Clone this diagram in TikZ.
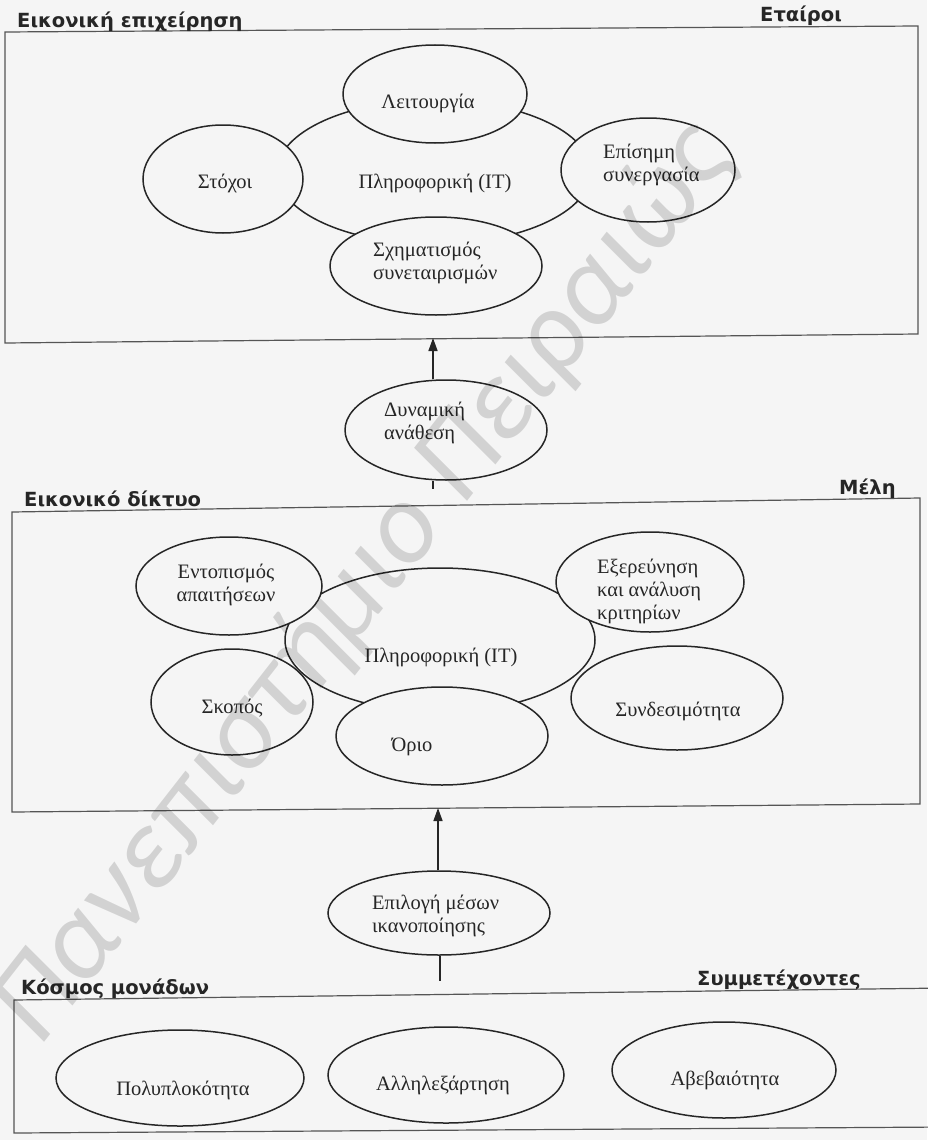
\documentclass[tikz,border=0pt]{standalone}
\usepackage{fontspec}
\setmainfont{Liberation Serif}
\newfontfamily\headfont{DejaVu Sans}
\newfontfamily\markfont{Carlito}
\usetikzlibrary{shapes.geometric,arrows.meta}

\definecolor{paper}{RGB}{245,245,245}
\definecolor{ink}{RGB}{38,38,38}
\definecolor{rule}{RGB}{85,85,85}

\tikzset{
  sz/.style 2 args={minimum width=#1pt, minimum height=#2pt},
  oval/.style={ellipse, draw=ink, line width=1.5pt, inner sep=0pt},
  solid/.style={fill=paper},
  lbl/.style={font=\fontsize{20.5}{23}\selectfont, text=ink, align=left, inner sep=0pt},
  title/.style={font=\headfont\bfseries\fontsize{19.5}{21}\selectfont, text=ink, inner sep=0pt, anchor=base west},
  frame/.style={draw=rule, line width=1.2pt},
  link/.style={draw=ink, line width=1.5pt},
  uparrow/.style={link, -{Triangle[length=13pt,width=9pt]}},
  watermark/.style={font=\markfont\itshape\fontsize{116}{116}\selectfont, text=black, opacity=0.14, inner sep=0pt}
}

\begin{document}
\begin{tikzpicture}[x=1pt,y=-1pt]
\useasboundingbox (0,0) rectangle (927,1140);
\fill[paper] (0,0) rectangle (927,1140);

% ---------- frames of the three levels ----------
\draw[frame] (5,32) -- (918,26) -- (918,334) -- (5,343) -- cycle;
\draw[frame] (12,512) -- (920,498) -- (920,804) -- (12,812) -- cycle;
\draw[frame] (945,988) -- (14,1000) -- (14,1133) -- (945,1127);

% ---------- level titles ----------
\node[title] (virtEnt)  at (17,28)   {Εικονική επιχείρηση};
\node[title] (partners) at (760,22)  {Εταίροι};
\node[title] (virtNet)  at (24,506)  {Εικονικό δίκτυο};
\node[title] (members)  at (839,494) {Μέλη};
\node[title] (unitWld)  at (21,994)  {Κόσμος μονάδων};
\node[title] (particip) at (697,985) {Συμμετέχοντες};

% ---------- virtual enterprise ----------
\node[oval, sz={314}{144}] (itA) at (434,172) {};
\node[oval, solid, sz={184}{98}]  (ops)      at (435,94)  {};
\node[oval, solid, sz={160}{108}] (goals)    at (223,179) {};
\node[oval, solid, sz={174}{104}] (formal)   at (648,170) {};
\node[oval, solid, sz={212}{98}]  (alliance) at (436,266) {};

\node[lbl] (itAt)   at (435,183) {Πληροφορική (IT)};
\node[lbl] (opst)   at (428,103) {Λειτουργία};
\node[lbl] (goalst) at (225,183) {Στόχοι};
\node[lbl, anchor=west] (formalt)   at (603,165) {Επίσημη\\συνεργασία};
\node[lbl, anchor=west] (alliancet) at (373,263) {Σχηματισμός\\συνεταιρισμών};

% ---------- dynamic assignment ----------
\node[oval, solid, sz={202}{100}] (dyn) at (446,430) {};
\node[lbl, anchor=west] (dynt) at (384,423) {Δυναμική\\ανάθεση};
\coordinate (up1) at (433,338);
\coordinate (dn1) at (433,489);
\draw[uparrow] (up1 |- dyn.north) -- (up1);
\draw[link] (dn1 |- dyn.south) -- (dn1);

% ---------- virtual network ----------
\node[oval, sz={310}{144}] (itB) at (440,640) {};
\node[oval, solid, sz={186}{98}]  (needs)   at (229,586) {};
\node[oval, sz={162}{106}]        (aim)     at (232,702) {};
\node[oval, solid, sz={212}{98}]  (limit)   at (442,736) {};
\node[oval, solid, sz={188}{100}] (explore) at (650,582) {};
\node[oval, solid, sz={212}{104}] (connect) at (677,698) {};

\node[lbl] (itBt)   at (441,657) {Πληροφορική (IT)};
\node[lbl, align=center] (needst) at (226,585) {Εντοπισμός\\απαιτήσεων};
\node[lbl] (aimt)   at (232,708) {Σκοπός};
\node[lbl] (limitt) at (412,747) {Όριο};
\node[lbl, anchor=west] (exploret) at (597,591) {Εξερεύνηση\\και ανάλυση\\κριτηρίων};
\node[lbl] (connectt) at (678,711) {Συνδεσιμότητα};

% ---------- choice of means ----------
\node[oval, solid, sz={222}{84}] (choice) at (439,913) {};
\node[lbl, anchor=west] (choicet) at (372,916) {Επιλογή μέσων\\ικανοποίησης};
\coordinate (up2) at (438,808);
\coordinate (dn2) at (440,981);
\draw[uparrow] (up2 |- choice.north) -- (up2);
\draw[link] (dn2 |- choice.south) -- (dn2);

% ---------- world of units ----------
\node[oval, sz={248}{96}] (complex)  at (180,1078) {};
\node[oval, sz={236}{96}] (interdep) at (446,1075) {};
\node[oval, sz={224}{96}] (uncert)   at (724,1070) {};
\node[lbl] (complext)  at (183,1090) {Πολυπλοκότητα};
\node[lbl] (interdept) at (443,1085) {Αλληλεξάρτηση};
\node[lbl] (uncertt)   at (725,1080) {Αβεβαιότητα};

% ---------- repository stamp ----------
\node[watermark, rotate=52, anchor=base west] (stamp) at (40,1048) {Πανεπιστήμιο Πειραιώς};
\end{tikzpicture}
\end{document}
